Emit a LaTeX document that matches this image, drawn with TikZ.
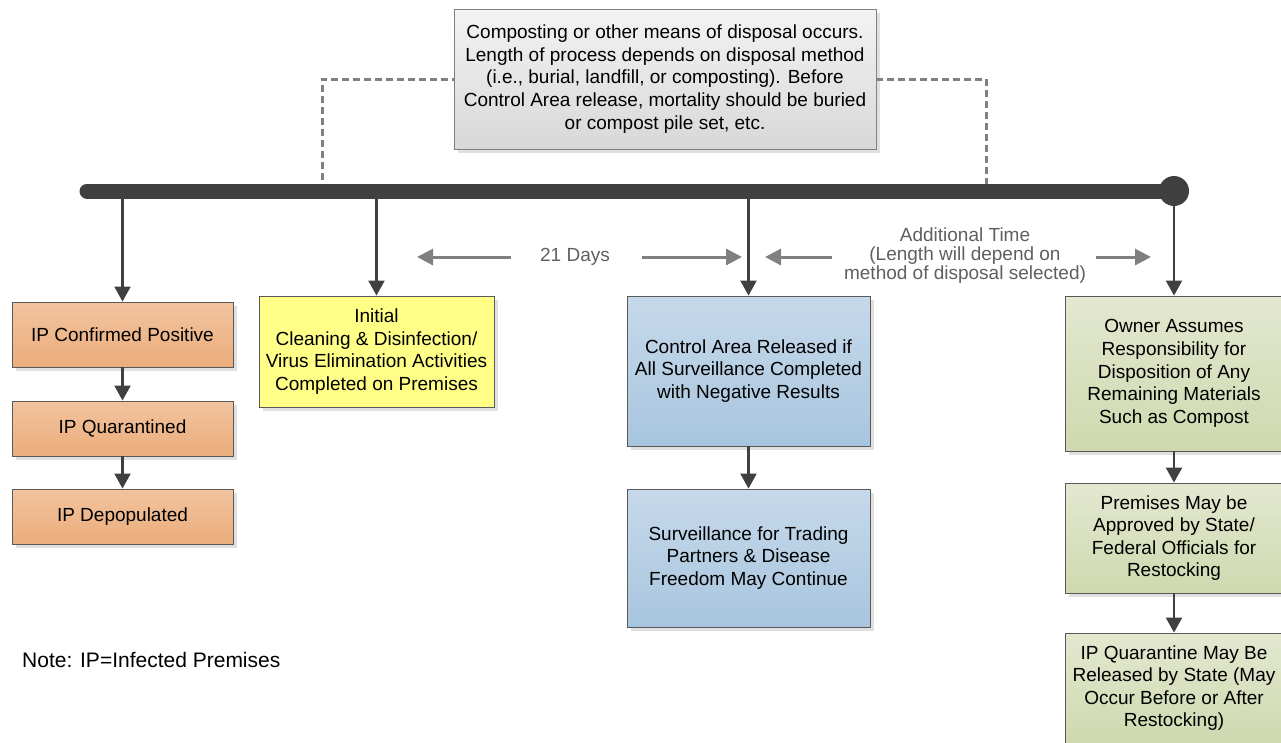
\documentclass[tikz,border=0pt]{standalone}
\usepackage{fontspec}
\setmainfont{Liberation Sans}
\usetikzlibrary{arrows.meta, shadows}
\definecolor{barcol}{HTML}{404040}
\definecolor{edgecol}{HTML}{595959}
\definecolor{spancol}{HTML}{808080}
\definecolor{spantext}{HTML}{5F5F5F}
\definecolor{orangetop}{HTML}{F2C39F}
\definecolor{orangebot}{HTML}{EBAD7B}
\definecolor{bluetop}{HTML}{C6D9EA}
\definecolor{bluebot}{HTML}{A8C5DF}
\definecolor{greentop}{HTML}{E3E8D0}
\definecolor{greenbot}{HTML}{CED9AF}
\definecolor{notetop}{HTML}{F3F3F3}
\definecolor{notebot}{HTML}{D8D8D8}
\definecolor{yellowfill}{HTML}{FFFF88}

\begin{document}
\begin{tikzpicture}[x=1pt, y=-1pt,
  font=\fontsize{19}{22.6}\selectfont,
  box/.style={draw=edgecol, line width=0.9pt, align=center, inner sep=0pt,
    drop shadow={shadow xshift=4pt, shadow yshift=-4pt, fill=black!12, opacity=1}},
  ipbox/.style={box, top color=orangetop, bottom color=orangebot, minimum width=221pt},
  cabox/.style={box, top color=bluetop, bottom color=bluebot, minimum width=243pt},
  ownbox/.style={box, top color=greentop, bottom color=greenbot, minimum width=218pt},
  flow/.style={draw=barcol, line width=2.2pt, -{Triangle[length=15pt, width=16pt]}},
  span/.style={draw=spancol, line width=3pt, -{Triangle[length=16pt, width=16pt]}},
  spanlabel/.style={text=spantext, align=center, font=\fontsize{19}{19}\selectfont},
  link/.style={draw=spancol, line width=3pt, dash pattern=on 7pt off 4pt}]
\useasboundingbox (0,0) rectangle (1281,742);

\node[box, top color=notetop, bottom color=notebot, draw=spancol,
  minimum width=422pt, minimum height=140pt] (dispo) at (665,79)
  {Composting or other means of disposal occurs.\\
   Length of process depends on disposal method\\
   (i.e., burial, landfill, or composting). Before\\
   Control Area release, mortality should be buried\\
   or compost pile set, etc.};

\coordinate (start) at (87,191);
\coordinate (stop) at (1174,191);
\coordinate (tconf) at (122.5,191);
\coordinate (tclean) at (376.5,191);
\coordinate (trel) at (748.5,191);
\coordinate (dleft) at (322,191);
\coordinate (dright) at (986,191);

\draw[link] (dleft) |- (dispo.west);
\draw[link] (dispo.east) -| (dright);
\draw[barcol, line width=15pt, line cap=round] (start) -- (stop);
\fill[barcol] (stop) circle (15pt);

\node[ipbox, minimum height=65pt] (conf) at (122.5,334.5) {IP Confirmed Positive};
\node[ipbox, minimum height=55pt] (quar) at (122.5,428.5) {IP Quarantined};
\node[ipbox, minimum height=55pt] (depop) at (122.5,516.5) {IP Depopulated};

\node[box, fill=yellowfill, minimum width=235pt, minimum height=111pt] (clean) at (376.5,351.5)
  {Initial\\ Cleaning \& Disinfection/\\ Virus Elimination Activities\\ Completed on Premises};

\node[cabox, minimum height=150pt] (release) at (748.5,371)
  {Control Area Released if\\ All Surveillance Completed\\ with Negative Results};
\node[cabox, minimum height=138pt] (surv) at (748.5,558)
  {Surveillance for Trading\\ Partners \& Disease\\ Freedom May Continue};

\node[ownbox, minimum height=155pt] (owner) at (1174,373.5)
  {Owner Assumes\\ Responsibility for\\ Disposition of Any\\ Remaining Materials\\ Such as Compost};
\node[ownbox, minimum height=110pt] (restock) at (1174,538)
  {Premises May be\\ Approved by State/\\ Federal Officials for\\ Restocking};
\node[ownbox, minimum height=110pt] (iprel) at (1174,688)
  {IP Quarantine May Be\\ Released by State (May\\ Occur Before or After\\ Restocking)};

\draw[flow] (tconf) -- (conf);
\draw[flow] (conf) -- (quar);
\draw[flow] (quar) -- (depop);
\draw[flow] (tclean) -- (clean);
\draw[flow] (trel) -- (release);
\draw[flow] (release) -- (surv);
\draw[flow] (stop) -- (owner);
\draw[flow] (owner) -- (restock);
\draw[flow] (restock) -- (iprel);

\node[spanlabel] (days) at (575,257) {21 Days};
\node[spanlabel] (extra) at (965,256)
  {Additional Time\\ (Length will depend on\\ method of disposal selected)};
\coordinate (daysl) at (511,257);
\coordinate (daysr) at (642,257);
\coordinate (extral) at (832,257);
\coordinate (extrar) at (1096,257);
\draw[span] (daysl) -- (417,257);
\draw[span] (daysr) -- (742,257);
\draw[span] (extral) -- (765,257);
\draw[span] (extrar) -- (1151,257);

\node[anchor=west, inner sep=0pt, font=\fontsize{21}{24}\selectfont] (note) at (22,660) {Note: IP=Infected Premises};
\end{tikzpicture}
\end{document}
